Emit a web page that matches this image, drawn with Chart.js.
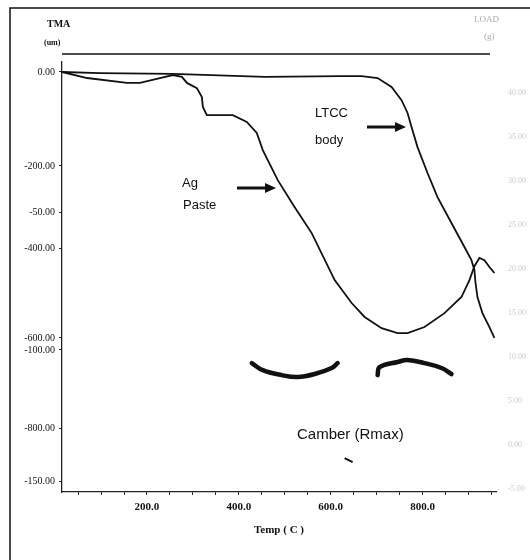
<!DOCTYPE html>
<html lang="en">
<head>
    <meta charset="UTF-8">
    <title>TMA - Ag paste / LTCC body</title>
    <script src="https://cdn.jsdelivr.net/npm/chart.js"></script>
    <style>
        body { margin: 0; background: #fff; }
        .wrap { width: 530px; height: 560px; }
    </style>
</head>
<body>
<div class="wrap"><canvas id="tma" width="530" height="560"></canvas></div>
<script>
    // Ag paste shrinkage curve (temp C, TMA reading)
    const agTemp = [15, 69.6, 156.5, 184.8, 228.3, 256.5, 276.1, 287.0, 308.7, 319.6, 321.7, 330.4, 387.0, 417.4, 439.1, 452.2, 484.8, 521.7, 558.7, 608.7, 645.7, 673.9, 710.9, 745.7, 767.4, 804.3, 847.8, 884.8, 902.2, 913.0, 923.9, 934.8, 945.7, 956.5];
    const agTma = [0, -2.2, -4.0, -4.0, -2.2, -1.1, -1.8, -4.0, -5.9, -9.2, -12.8, -15.8, -15.8, -18.3, -22.3, -28.6, -39.6, -49.5, -59.0, -76.2, -84.6, -89.7, -93.8, -95.6, -95.6, -93.4, -88.3, -82.4, -76.2, -71.1, -68.1, -68.9, -71.4, -73.6];

    // LTCC body shrinkage curve
    const ltccTemp = [15, 97.8, 256.5, 456.5, 619.6, 667.4, 702.2, 732.6, 754.3, 767.4, 776.1, 789.1, 810.9, 832.6, 863.0, 891.3, 906.5, 913.0, 915.2, 919.6, 930.4, 945.7, 956.5];
    const ltccTma = [0, -0.4, -0.7, -1.8, -1.5, -1.5, -2.2, -5.5, -10.3, -15.0, -20.1, -27.5, -37.0, -45.8, -55.3, -64.1, -68.9, -72.5, -76.9, -82.4, -88.3, -93.4, -97.4];

    // hand drawn camber sketches
    const camberLTemp = [428.3, 452.2, 493.5, 528.3, 565.2, 602.2, 615.2];
    const camberLTma = [-106.6, -109.2, -111.0, -111.7, -110.6, -108.4, -106.6];
    const camberRTemp = [702.2, 706.5, 745.7, 767.4, 804.3, 841.3, 863.0];
    const camberRTma = [-111.0, -108.1, -106.2, -105.5, -106.6, -108.4, -110.6];
    const dashTemp = [630.4, 647.8];
    const dashTma = [-141.4, -142.9];

    // left axis: two scales printed on top of each other in the scan
    const yTickValues = [0, -34.4, -51.3, -64.5, -97.4, -101.8, -130.4, -149.8];
    const yTickLabels = ['0.00', '-200.00', '-50.00', '-400.00', '-600.00', '-100.00', '-800.00', '-150.00'];
    const xTickValues = [200, 400, 600, 800];
    const xTickLabels = ['200.0', '400.0', '600.0', '800.0'];
    const xMarks = [50, 100, 150, 200, 250, 300, 350, 400, 450, 500, 550, 600, 650, 700, 750, 800, 850, 900, 950];
    // faint LOAD scale on the right
    const loadTicks = [40, 35, 30, 25, 20, 15, 10, 5, 0, -5];

    const pts = (xs, ys) => xs.map((x, i) => ({ x: x, y: ys[i] }));

    const notes = {
        id: 'notes',
        beforeDraw(chart) {
            const c = chart.ctx;
            c.save();
            c.strokeStyle = '#111';
            c.lineWidth = 1.5;
            c.beginPath();
            c.moveTo(10, 560); c.lineTo(10, 8); c.lineTo(530, 8);
            c.stroke();
            c.beginPath();
            c.moveTo(62, 54); c.lineTo(490, 54);
            c.stroke();
            c.restore();
        },
        afterDraw(chart) {
            const c = chart.ctx;
            c.save();
            c.fillStyle = '#111';
            c.textBaseline = 'middle';

            c.font = 'bold 10px "Liberation Serif"';
            c.fillText('TMA', 47, 24);
            c.font = 'bold 8px "Liberation Serif"';
            c.fillText('(um)', 44, 43);

            c.fillStyle = '#aaa';
            c.font = '9px "Liberation Serif"';
            c.fillText('LOAD', 474, 20);
            c.fillText('(g)', 484, 37);

            c.fillStyle = '#111';
            c.font = '13px "Liberation Sans"';
            c.fillText('Ag', 182, 183);
            c.fillText('Paste', 183, 205);
            c.fillText('LTCC', 315, 113);
            c.fillText('body', 315, 140);
            c.font = '15px "Liberation Sans"';
            c.fillText('Camber (Rmax)', 297, 435);

            const arrow = (x1, x2, y) => {
                c.lineWidth = 3;
                c.beginPath(); c.moveTo(x1, y); c.lineTo(x2 - 8, y); c.stroke();
                c.beginPath();
                c.moveTo(x2, y); c.lineTo(x2 - 11, y - 5); c.lineTo(x2 - 11, y + 5);
                c.closePath(); c.fill();
            };
            c.strokeStyle = '#111';
            arrow(237, 276, 188);
            arrow(367, 406, 127);
            c.restore();
        }
    };

    const curve = (data, w) => ({
        data: data, yAxisID: 'y', borderColor: '#111', borderWidth: w,
        pointRadius: 0, tension: 0, fill: false
    });
    const sketch = (data) => ({
        data: data, yAxisID: 'y', borderColor: '#111', borderWidth: 4.5,
        borderCapStyle: 'round', pointRadius: 0, tension: 0.4, fill: false
    });

    new Chart(document.getElementById('tma').getContext('2d'), {
        type: 'line',
        data: {
            datasets: [
                curve(pts(agTemp, agTma), 1.8),
                curve(pts(ltccTemp, ltccTma), 1.8),
                sketch(pts(camberLTemp, camberLTma)),
                sketch(pts(camberRTemp, camberRTma)),
                curve(pts(dashTemp, dashTma), 2)
            ]
        },
        options: {
            responsive: false,
            animation: false,
            layout: { padding: { top: 62 } },
            plugins: { legend: { display: false }, tooltip: { enabled: false } },
            scales: {
                x: {
                    type: 'linear', min: 15, max: 960,
                    afterFit: s => { s.height = 68; },
                    afterBuildTicks: s => { s.ticks = xMarks.map(v => ({ value: v })); },
                    ticks: {
                        autoSkip: false, maxRotation: 0, padding: 6, color: '#111',
                        font: { family: 'Liberation Serif', size: 11, weight: 'bold' },
                        callback: v => { const i = xTickValues.indexOf(v); return i < 0 ? '' : xTickLabels[i]; }
                    },
                    grid: { drawOnChartArea: false, tickLength: 3, color: '#222' },
                    border: { color: '#222', width: 1.2, dash: [6, 3] },
                    title: {
                        display: true, text: 'Temp ( C )', color: '#111',
                        font: { family: 'Liberation Serif', size: 11, weight: 'bold' },
                        padding: { top: 0, bottom: 23 }
                    }
                },
                y: {
                    min: -153.8, max: 3.66,
                    afterFit: s => { s.width = 62; },
                    afterBuildTicks: s => { s.ticks = yTickValues.map(v => ({ value: v })); },
                    ticks: {
                        autoSkip: false, padding: 4, color: '#111',
                        font: { family: 'Liberation Serif', size: 10 },
                        callback: v => yTickLabels[yTickValues.indexOf(v)]
                    },
                    grid: { drawOnChartArea: false, tickLength: 3, color: '#222' },
                    border: { color: '#222', width: 1.3, dash: [12, 4] }
                },
                y2: {
                    position: 'right', min: -5.34, max: 43.52,
                    afterFit: s => { s.width = 34; },
                    afterBuildTicks: s => { s.ticks = loadTicks.map(v => ({ value: v })); },
                    ticks: {
                        autoSkip: false, padding: 4, color: '#ccc',
                        font: { family: 'Liberation Serif', size: 8 },
                        callback: v => v.toFixed(2)
                    },
                    grid: { display: false },
                    border: { display: false }
                }
            }
        },
        plugins: [notes]
    });
</script>
</body>
</html>
